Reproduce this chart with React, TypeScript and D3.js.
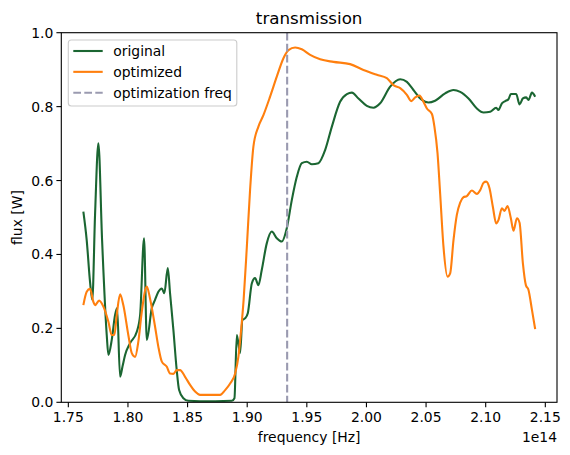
import React from "react";
import * as d3 from "d3";

// frequency in units of 1e14 Hz
const originalFreq = [
  1.7626, 1.7654, 1.7682, 1.7701, 1.7724, 1.7752, 1.7783, 1.7822, 1.7836, 1.7864,
  1.7892, 1.7909, 1.7934, 1.7955, 1.7976, 1.8018, 1.8074, 1.8102, 1.8135, 1.8158,
  1.82, 1.8227, 1.8255, 1.8284, 1.8305, 1.8334, 1.8353, 1.8381, 1.8409, 1.8429,
  1.8465, 1.8507, 1.8605, 1.8731, 1.8871, 1.8893, 1.8913, 1.894, 1.896, 1.8982,
  1.9005, 1.9039, 1.9066, 1.9094, 1.9122, 1.9164, 1.9206, 1.9248, 1.929, 1.9332,
  1.9374, 1.9416, 1.9458, 1.95, 1.9542, 1.9597, 1.9654, 1.971, 1.9779, 1.9836,
  1.9878, 1.9933, 2.0003, 2.0059, 2.0115, 2.0199, 2.0283, 2.0339, 2.0394, 2.0465,
  2.052, 2.0576, 2.066, 2.073, 2.0786, 2.0856, 2.0926, 2.0982, 2.1038, 2.1088,
  2.1107, 2.1136, 2.1164, 2.1191, 2.1211, 2.1256, 2.1284, 2.1312, 2.134, 2.1359,
  2.1388, 2.1415,
];
const originalFlux = [
  0.516, 0.439, 0.326, 0.277, 0.507, 0.701, 0.439, 0.182, 0.128, 0.169,
  0.236, 0.255, 0.069, 0.098, 0.128, 0.16, 0.191, 0.236, 0.444, 0.169,
  0.255, 0.277, 0.299, 0.308, 0.295, 0.363, 0.295, 0.196, 0.087, 0.033,
  0.011, 0.004, 0.003, 0.003, 0.004, 0.011, 0.182, 0.133, 0.223, 0.227,
  0.241, 0.322, 0.336, 0.317, 0.358, 0.43, 0.462, 0.444, 0.435, 0.471,
  0.547, 0.61, 0.647, 0.651, 0.644, 0.647, 0.683, 0.746, 0.813, 0.834,
  0.838, 0.822, 0.802, 0.797, 0.809, 0.854, 0.874, 0.867, 0.845, 0.818,
  0.811, 0.816, 0.836, 0.845, 0.84, 0.822, 0.795, 0.784, 0.786, 0.797,
  0.791, 0.809, 0.815, 0.82, 0.834, 0.834, 0.806, 0.822, 0.825, 0.818,
  0.838, 0.827,
];

const optimizedFreq = [
  1.7626, 1.7654, 1.7682, 1.771, 1.7724, 1.7758, 1.7794, 1.7836, 1.7864, 1.7886,
  1.7906, 1.7934, 1.7961, 1.8003, 1.8032, 1.806, 1.8087, 1.8116, 1.8158, 1.8185,
  1.8227, 1.8255, 1.8284, 1.8326, 1.8353, 1.8381, 1.8409, 1.8437, 1.8479, 1.8521,
  1.8563, 1.8605, 1.8689, 1.8773, 1.8815, 1.8857, 1.8899, 1.8926, 1.8949, 1.897,
  1.8997, 1.9024, 1.9052, 1.9094, 1.9136, 1.9192, 1.9248, 1.9304, 1.9346, 1.9402,
  1.9458, 1.9528, 1.9612, 1.9723, 1.9863, 1.9975, 2.0087, 2.0171, 2.0227, 2.0283,
  2.0339, 2.0375, 2.0409, 2.0445, 2.0478, 2.0507, 2.0549, 2.057, 2.0596, 2.0618,
  2.0646, 2.068, 2.0702, 2.073, 2.0758, 2.0786, 2.0814, 2.0842, 2.0884, 2.0926,
  2.0954, 2.0982, 2.1004, 2.1032, 2.106, 2.1088, 2.1107, 2.1136, 2.1158, 2.1183,
  2.1211, 2.1233, 2.1262, 2.1284, 2.1312, 2.1337, 2.1359, 2.1388, 2.1415,
];
const optimizedFlux = [
  0.263, 0.299, 0.307, 0.272, 0.263, 0.275, 0.259, 0.218, 0.182, 0.182,
  0.236, 0.292, 0.263, 0.182, 0.133, 0.123, 0.164, 0.245, 0.313, 0.281,
  0.205, 0.15, 0.11, 0.096, 0.078, 0.077, 0.087, 0.087, 0.069, 0.047,
  0.029, 0.02, 0.02, 0.02, 0.033, 0.051, 0.078, 0.123, 0.196, 0.277,
  0.421, 0.574, 0.692, 0.746, 0.777, 0.827, 0.881, 0.931, 0.953, 0.96,
  0.955, 0.94, 0.928, 0.921, 0.915, 0.899, 0.886, 0.877, 0.858, 0.85,
  0.832, 0.815, 0.825, 0.83, 0.813, 0.795, 0.78, 0.746, 0.674, 0.565,
  0.421, 0.34, 0.349, 0.439, 0.507, 0.54, 0.555, 0.558, 0.573, 0.564,
  0.574, 0.594, 0.597, 0.579, 0.529, 0.484, 0.493, 0.525, 0.518, 0.531,
  0.498, 0.464, 0.498, 0.486, 0.376, 0.317, 0.304, 0.25, 0.198,
];

const optimizationFreq = 1.9335;
const xTicks = [1.75, 1.8, 1.85, 1.9, 1.95, 2.0, 2.05, 2.1, 2.15];
const yTicks = [0, 0.2, 0.4, 0.6, 0.8, 1.0];
const legendLabels = ["original", "optimized", "optimization freq"];

const W = 570;
const H = 455;
const M = { left: 61.3, right: 557, top: 32.7, bottom: 402.3 };
const GREEN = "#1b6632";
const ORANGE = "#ff7f0e";
const GREY = "#9a9ab0";
const FONT = "DejaVu Sans, sans-serif";

export default function App() {
  const x = d3.scaleLinear().domain([1.7441, 2.1598]).range([M.left, M.right]);
  const y = d3.scaleLinear().domain([0, 1]).range([M.bottom, M.top]);

  const line = d3
    .line<[number, number]>()
    .x((d) => x(d[0]))
    .y((d) => y(d[1]))
    .curve(d3.curveMonotoneX);

  const origPts = originalFreq.map((f, i) => [f, originalFlux[i]] as [number, number]);
  const optPts = optimizedFreq.map((f, i) => [f, optimizedFlux[i]] as [number, number]);

  const legendColors = [GREEN, ORANGE, GREY];

  return (
    <svg
      width={W}
      height={H}
      style={{ position: "absolute", left: 0, top: 0, background: "#fff" }}
      fontFamily={FONT}
    >
      <rect x={0} y={0} width={W} height={H} fill="#fff" />
      <defs>
        <clipPath id="plotclip">
          <rect x={M.left} y={M.top} width={M.right - M.left} height={M.bottom - M.top} />
        </clipPath>
      </defs>
      <g clipPath="url(#plotclip)">
        <path d={line(origPts) || ""} fill="none" stroke={GREEN} strokeWidth={2.1} strokeLinejoin="round" />
        <path d={line(optPts) || ""} fill="none" stroke={ORANGE} strokeWidth={2.1} strokeLinejoin="round" />
        <line
          x1={x(optimizationFreq)}
          x2={x(optimizationFreq)}
          y1={M.top}
          y2={M.bottom}
          stroke={GREY}
          strokeWidth={2.1}
          strokeDasharray="7.7 3.3"
        />
      </g>
      <rect
        x={M.left}
        y={M.top}
        width={M.right - M.left}
        height={M.bottom - M.top}
        fill="none"
        stroke="#000"
        strokeWidth={1.1}
      />
      {xTicks.map((t) => (
        <g key={"x" + t}>
          <line x1={x(t)} x2={x(t)} y1={M.bottom} y2={M.bottom + 4.9} stroke="#000" strokeWidth={1.1} />
          <text x={x(t)} y={M.bottom + 20} textAnchor="middle" fontSize={13.9} fill="#000">
            {t.toFixed(2)}
          </text>
        </g>
      ))}
      {yTicks.map((t) => (
        <g key={"y" + t}>
          <line x1={M.left - 4.9} x2={M.left} y1={y(t)} y2={y(t)} stroke="#000" strokeWidth={1.1} />
          <text x={M.left - 8} y={y(t) + 5} textAnchor="end" fontSize={13.9} fill="#000">
            {t.toFixed(1)}
          </text>
        </g>
      ))}
      <text x={M.right} y={442} textAnchor="end" fontSize={13.9} fill="#000">
        1e14
      </text>
      <text x={(M.left + M.right) / 2} y={442} textAnchor="middle" fontSize={13.9} fill="#000">
        frequency [Hz]
      </text>
      <text
        transform={`translate(22, ${(M.top + M.bottom) / 2}) rotate(-90)`}
        textAnchor="middle"
        fontSize={13.9}
        fill="#000"
      >
        flux [W]
      </text>
      <text x={(M.left + M.right) / 2} y={24} textAnchor="middle" fontSize={16.7} fill="#000">
        transmission
      </text>
      <rect x={68.3} y={40} width={168.5} height={66} rx={3} ry={3} fill="#fff" fillOpacity={0.8} stroke="#cccccc" strokeWidth={1.1} />
      {legendLabels.map((lab, i) => {
        const ly = 51 + i * 20.85;
        return (
          <g key={lab}>
            <line
              x1={73.3}
              x2={102.7}
              y1={ly}
              y2={ly}
              stroke={legendColors[i]}
              strokeWidth={2.1}
              strokeDasharray={i === 2 ? "7.7 3.3" : undefined}
            />
            <text x={113.3} y={ly + 5} fontSize={13.9} fill="#000">
              {lab}
            </text>
          </g>
        );
      })}
    </svg>
  );
}
